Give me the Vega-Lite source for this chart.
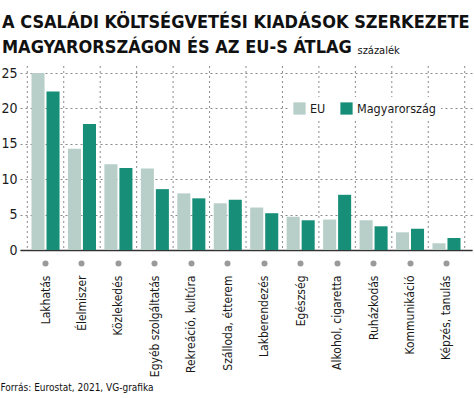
{
  "$schema": "https://vega.github.io/schema/vega-lite/v6.json",
  "width": 452,
  "height": 184,
  "autosize": {"type": "none"},
  "padding": {"left": 20, "top": 66, "right": 2, "bottom": 148},
  "background": "white",
  "config": {
    "font": "DejaVu Sans Condensed",
    "view": {"stroke": null}
  },
  "title": {
    "text": ["A CSALÁDI KÖLTSÉGVETÉSI KIADÁSOK SZERKEZETE", "MAGYARORSZÁGON ÉS AZ EU-S ÁTLAG"],
    "anchor": "start",
    "frame": "group",
    "dx": -18,
    "dy": 25,
    "offset": 12,
    "font": "DejaVu Sans Condensed",
    "fontSize": 18,
    "fontWeight": "bold",
    "lineHeight": 25,
    "color": "#111"
  },
  "data": {
    "values": [
      {"kat": "Lakhatás", "sorozat": "EU", "ertek": 25.0},
      {"kat": "Lakhatás", "sorozat": "Magyarország", "ertek": 22.4},
      {"kat": "Élelmiszer", "sorozat": "EU", "ertek": 14.3},
      {"kat": "Élelmiszer", "sorozat": "Magyarország", "ertek": 17.8},
      {"kat": "Közlekedés", "sorozat": "EU", "ertek": 12.1},
      {"kat": "Közlekedés", "sorozat": "Magyarország", "ertek": 11.6},
      {"kat": "Egyéb szolgáltatás", "sorozat": "EU", "ertek": 11.5},
      {"kat": "Egyéb szolgáltatás", "sorozat": "Magyarország", "ertek": 8.6},
      {"kat": "Rekreáció, kultúra", "sorozat": "EU", "ertek": 8.0},
      {"kat": "Rekreáció, kultúra", "sorozat": "Magyarország", "ertek": 7.3},
      {"kat": "Szálloda, étterem", "sorozat": "EU", "ertek": 6.6},
      {"kat": "Szálloda, étterem", "sorozat": "Magyarország", "ertek": 7.1},
      {"kat": "Lakberendezés", "sorozat": "EU", "ertek": 6.0},
      {"kat": "Lakberendezés", "sorozat": "Magyarország", "ertek": 5.2},
      {"kat": "Egészség", "sorozat": "EU", "ertek": 4.7},
      {"kat": "Egészség", "sorozat": "Magyarország", "ertek": 4.2},
      {"kat": "Alkohol, cigaretta", "sorozat": "EU", "ertek": 4.3},
      {"kat": "Alkohol, cigaretta", "sorozat": "Magyarország", "ertek": 7.8},
      {"kat": "Ruházkodás", "sorozat": "EU", "ertek": 4.2},
      {"kat": "Ruházkodás", "sorozat": "Magyarország", "ertek": 3.35},
      {"kat": "Kommunikáció", "sorozat": "EU", "ertek": 2.5},
      {"kat": "Kommunikáció", "sorozat": "Magyarország", "ertek": 3.0},
      {"kat": "Képzés, tanulás", "sorozat": "EU", "ertek": 0.95},
      {"kat": "Képzés, tanulás", "sorozat": "Magyarország", "ertek": 1.7}
    ]
  },
  "layer": [
    {
      "mark": {"type": "bar"},
      "encoding": {
        "x": {
          "field": "kat",
          "type": "nominal",
          "sort": null,
          "scale": {"paddingInner": 0, "paddingOuter": 0.2},
          "axis": {
            "title": "Forrás: Eurostat, 2021, VG-grafika",
            "titleFontSize": 10,
            "titleFontWeight": "normal",
            "titleColor": "#111",
            "titleAnchor": "start",
            "titleAlign": "left",
            "titleBaseline": "alphabetic",
            "titleX": -20,
            "titleY": 140,
            "labelAngle": -90,
            "labelFontSize": 12,
            "labelColor": "#1a1a1a",
            "labelPadding": 9,
            "domainColor": "#333",
            "domainWidth": 1.5,
            "ticks": true,
            "tickColor": "#9a9a9a",
            "tickWidth": 6,
            "tickCap": "round",
            "tickSize": 16,
            "tickDash": [0.01, 1000],
            "tickDashOffset": -13,
            "grid": false
          }
        },
        "xOffset": {
          "field": "sorozat",
          "type": "nominal",
          "scale": {"paddingInner": 0.13, "paddingOuter": 0.28}
        },
        "y": {
          "field": "ertek",
          "type": "quantitative",
          "scale": {"domain": [0, 26], "nice": false},
          "axis": {
            "values": [0, 5, 10, 15, 20, 25],
            "labelOverlap": false,
            "title": "százalék",
            "titleAngle": 0,
            "titleFontSize": 11,
            "titleFontWeight": "normal",
            "titleColor": "#111",
            "titleAlign": "left",
            "titleBaseline": "alphabetic",
            "titleX": 337,
            "titleY": -13,
            "labelFontSize": 14,
            "labelColor": "#1a1a1a",
            "labelPadding": 3,
            "ticks": false,
            "domain": false,
            "grid": true,
            "gridColor": "#8a8a8a",
            "gridDash": [2, 3],
            "gridWidth": 1
          }
        },
        "color": {
          "field": "sorozat",
          "type": "nominal",
          "scale": {"domain": ["EU", "Magyarország"], "range": ["#b7cfc8", "#178f78"]},
          "legend": {
            "title": null,
            "orient": "none",
            "direction": "horizontal",
            "legendX": 268,
            "legendY": 31,
            "fillColor": "white",
            "padding": 5,
            "symbolType": "square",
            "symbolSize": 150,
            "symbolStrokeWidth": 0,
            "labelFontSize": 12.5,
            "labelColor": "#1a1a1a",
            "labelOffset": 4,
            "columnPadding": 14
          }
        }
      }
    },
    {
      "transform": [{"filter": "datum.sorozat === 'EU'"}],
      "mark": {"type": "rule", "color": "#8a8a8a", "strokeDash": [2, 3], "strokeWidth": 1},
      "encoding": {
        "x": {"field": "kat", "type": "nominal", "sort": null, "bandPosition": 0}
      }
    },
    {
      "transform": [{"filter": "datum.sorozat === 'EU' && datum.kat === 'Képzés, tanulás'"}],
      "mark": {"type": "rule", "color": "#8a8a8a", "strokeDash": [2, 3], "strokeWidth": 1},
      "encoding": {
        "x": {"field": "kat", "type": "nominal", "sort": null, "bandPosition": 1}
      }
    }
  ]
}
